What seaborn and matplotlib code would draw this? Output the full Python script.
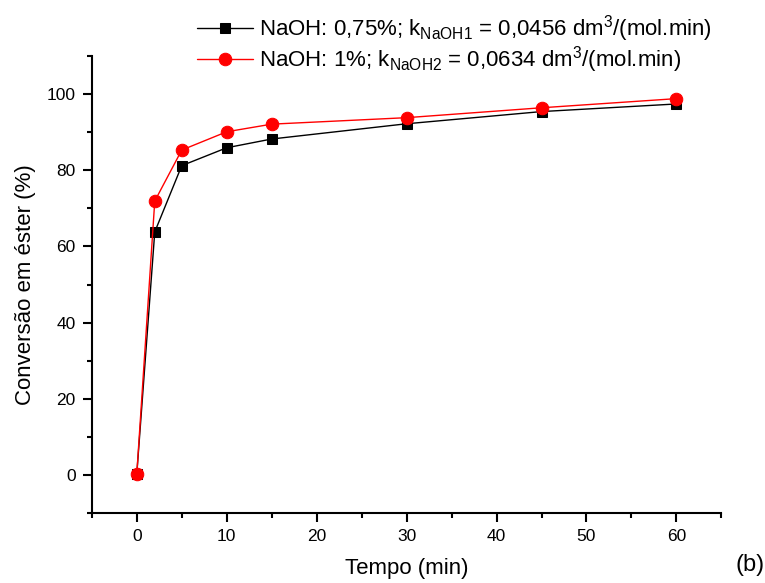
import matplotlib
matplotlib.use("Agg")
import matplotlib.pyplot as plt
from matplotlib.ticker import MultipleLocator
import seaborn as sns
import pandas as pd

# Reaction time (min) and ester conversion (%) for two catalyst loadings
tempo = [0, 2, 5, 10, 15, 30, 45, 60]
conv_naoh_075 = [0.2, 63.8, 81.2, 85.9, 88.2, 92.2, 95.4, 97.4]
conv_naoh_1 = [0.2, 71.9, 85.3, 90.1, 92.1, 93.8, 96.4, 98.8]

label_075 = r"NaOH: 0,75%; k$_{\mathrm{NaOH1}}$ = 0,0456 dm$^{\mathrm{3}}$/(mol.min)"
label_1 = r"NaOH: 1%; k$_{\mathrm{NaOH2}}$ = 0,0634 dm$^{\mathrm{3}}$/(mol.min)"

sns.set_style("ticks", rc={
    "text.color": "black",
    "axes.labelcolor": "black",
    "axes.edgecolor": "black",
    "xtick.color": "black",
    "ytick.color": "black",
})
plt.rcParams["font.family"] = ["Liberation Sans", "DejaVu Sans"]
plt.rcParams["mathtext.fontset"] = "custom"
plt.rcParams["mathtext.rm"] = "Liberation Sans"
plt.rcParams["mathtext.it"] = "Liberation Sans"

df1 = pd.DataFrame({"t": tempo, "c": conv_naoh_075})
df2 = pd.DataFrame({"t": tempo, "c": conv_naoh_1})

fig = plt.figure(figsize=(7.65, 5.83), dpi=100)
ax = fig.add_axes([0.120, 0.120, 0.823, 0.784])

sns.lineplot(data=df1, x="t", y="c", ax=ax, color="black", marker="s",
             markersize=7.5, markeredgecolor="black", linewidth=1, label=label_075)
sns.lineplot(data=df2, x="t", y="c", ax=ax, color="red", marker="o",
             markersize=9, markeredgecolor="red", linewidth=1, label=label_1)

ax.set_xlim(-5, 65)
ax.set_ylim(-10, 110)
ax.xaxis.set_major_locator(MultipleLocator(10))
ax.xaxis.set_minor_locator(MultipleLocator(5))
ax.yaxis.set_major_locator(MultipleLocator(20))
ax.yaxis.set_minor_locator(MultipleLocator(10))
ax.tick_params(which="major", direction="out", length=6.5, width=1.5, labelsize=12.5, pad=5)
ax.tick_params(which="minor", direction="out", length=3.5, width=1.5)

for side in ("top", "right"):
    ax.spines[side].set_visible(False)
for side in ("left", "bottom"):
    ax.spines[side].set_linewidth(1.5)

ax.set_xlabel("Tempo (min)", fontsize=16, labelpad=10)
ax.set_ylabel("Conversão em éster (%)", fontsize=16, labelpad=8)

ax.legend(loc="upper left", bbox_to_anchor=(0.246, 0.993), bbox_transform=fig.transFigure,
          frameon=False, fontsize=16, handlelength=2.5, handletextpad=0.3,
          labelspacing=0.02, borderaxespad=0.0)

fig.text(0.962, 0.012, "(b)", fontsize=17, ha="left", va="bottom")

fig.savefig("out.png", dpi=100)
